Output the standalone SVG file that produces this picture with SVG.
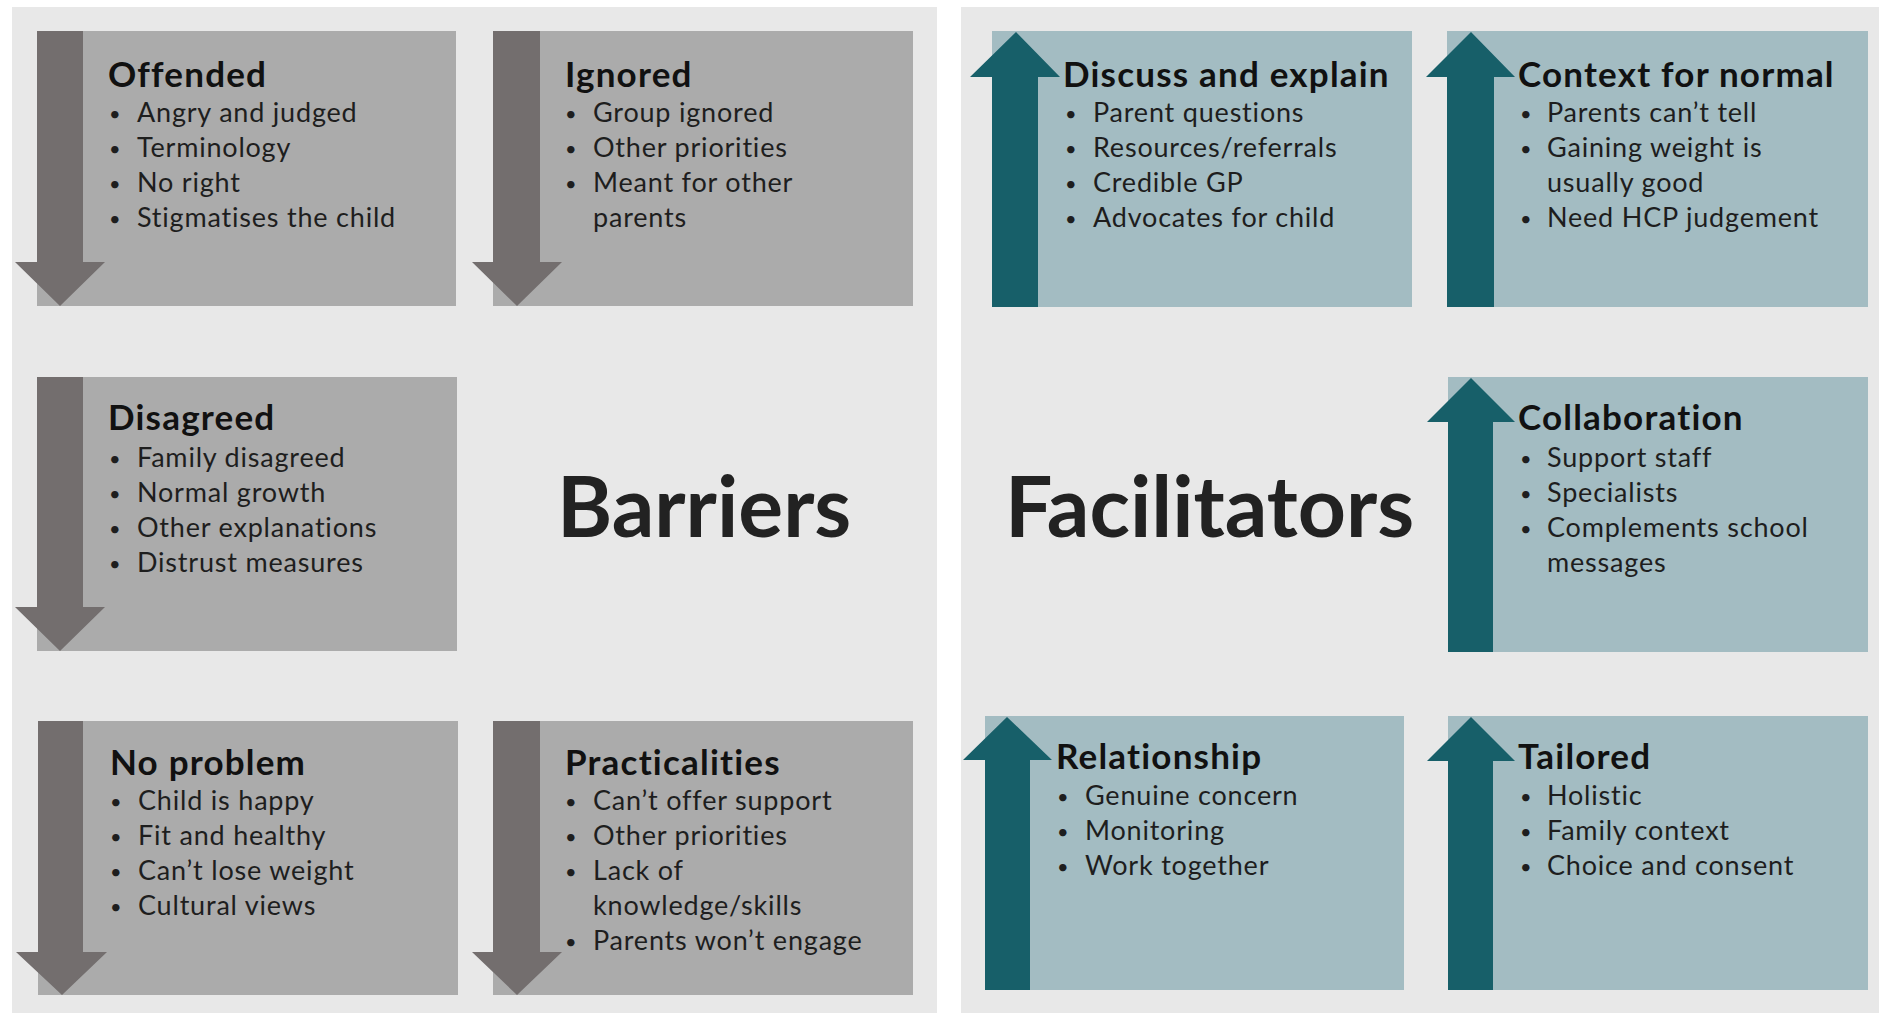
<svg xmlns="http://www.w3.org/2000/svg" width="1879" height="1013" viewBox="0 0 1879 1013">
<style>
.panel{fill:#e8e8e8}
.gbox{fill:#ababab}
.garr{fill:#736e6e}
.tbox{fill:#a3bcc2}
.tarr{fill:#175f69}
.title{font-family:Lato,"Open Sans",sans-serif;font-weight:700;font-size:35px;letter-spacing:1.2px;fill:#111}
.item{font-family:Lato,"Open Sans",sans-serif;font-size:27px;letter-spacing:0.8px;fill:#1e1e1e}
.b{font-size:20px}
.big{font-family:Lato,"Open Sans",sans-serif;font-weight:700;font-size:84px;fill:#222}
</style>
<rect width="1879" height="1013" fill="#ffffff"/>
<rect class="panel" x="12" y="7" width="925" height="1006"/>
<rect class="panel" x="961" y="7" width="918" height="1006"/>

<g id="offended">
<rect class="gbox" x="37" y="31" width="419" height="275"/>
<path class="garr" d="M37 31H83V262H105L60 306L15 262H37Z"/>
<text class="title" x="108" y="87">Offended</text>
<g class="item"><text class="b" x="109" y="121">•</text><text x="137" y="122">Angry and judged</text>
<text class="b" x="109" y="156">•</text><text x="137" y="157">Terminology</text>
<text class="b" x="109" y="191">•</text><text x="137" y="192">No right</text>
<text class="b" x="109" y="226">•</text><text x="137" y="227">Stigmatises the child</text></g>
</g>

<g id="ignored">
<rect class="gbox" x="493" y="31" width="420" height="275"/>
<path class="garr" d="M493 31H540V262H562L517 306L472 262H493Z"/>
<text class="title" x="565" y="87">Ignored</text>
<g class="item"><text class="b" x="565" y="121">•</text><text x="593" y="122">Group ignored</text>
<text class="b" x="565" y="156">•</text><text x="593" y="157">Other priorities</text>
<text class="b" x="565" y="191">•</text><text x="593" y="192">Meant for other</text>
<text x="593" y="227">parents</text></g>
</g>

<g id="disagreed">
<rect class="gbox" x="37" y="377" width="420" height="274"/>
<path class="garr" d="M37 377H83V607H105L60 651L15 607H37Z"/>
<text class="title" x="108" y="430">Disagreed</text>
<g class="item"><text class="b" x="109" y="466">•</text><text x="137" y="467">Family disagreed</text>
<text class="b" x="109" y="501">•</text><text x="137" y="502">Normal growth</text>
<text class="b" x="109" y="536">•</text><text x="137" y="537">Other explanations</text>
<text class="b" x="109" y="571">•</text><text x="137" y="572">Distrust measures</text></g>
</g>

<g id="noproblem">
<rect class="gbox" x="38" y="721" width="420" height="274"/>
<path class="garr" d="M38 721H83V952H107L62 995L16 952H38Z"/>
<text class="title" x="110" y="775">No problem</text>
<g class="item"><text class="b" x="110" y="809">•</text><text x="138" y="810">Child is happy</text>
<text class="b" x="110" y="844">•</text><text x="138" y="845">Fit and healthy</text>
<text class="b" x="110" y="879">•</text><text x="138" y="880">Can’t lose weight</text>
<text class="b" x="110" y="914">•</text><text x="138" y="915">Cultural views</text></g>
</g>

<g id="practicalities">
<rect class="gbox" x="493" y="721" width="420" height="274"/>
<path class="garr" d="M493 721H540V952H562L517 995L472 952H493Z"/>
<text class="title" x="565" y="775">Practicalities</text>
<g class="item"><text class="b" x="565" y="809">•</text><text x="593" y="810">Can’t offer support</text>
<text class="b" x="565" y="844">•</text><text x="593" y="845">Other priorities</text>
<text class="b" x="565" y="879">•</text><text x="593" y="880">Lack of</text>
<text x="593" y="915">knowledge/skills</text>
<text class="b" x="565" y="949">•</text><text x="593" y="950">Parents won’t engage</text></g>
</g>

<g id="barriers-label"><text class="big" x="557" y="537">Barriers</text></g>
<g id="facilitators-label"><text class="big" x="1005" y="537">Facilitators</text></g>

<g id="discuss">
<rect class="tbox" x="992" y="31" width="420" height="276"/>
<path class="tarr" d="M992 307V77H970L1016 32L1060 77H1038V307Z"/>
<text class="title" x="1063" y="87">Discuss and explain</text>
<g class="item"><text class="b" x="1065" y="121">•</text><text x="1093" y="122">Parent questions</text>
<text class="b" x="1065" y="156">•</text><text x="1093" y="157">Resources/referrals</text>
<text class="b" x="1065" y="191">•</text><text x="1093" y="192">Credible GP</text>
<text class="b" x="1065" y="226">•</text><text x="1093" y="227">Advocates for child</text></g>
</g>

<g id="context">
<rect class="tbox" x="1447" y="31" width="421" height="276"/>
<path class="tarr" d="M1447 307V77H1426L1471 32L1515 77H1494V307Z"/>
<text class="title" x="1518" y="87">Context for normal</text>
<g class="item"><text class="b" x="1520" y="121">•</text><text x="1547" y="122">Parents can’t tell</text>
<text class="b" x="1520" y="156">•</text><text x="1547" y="157">Gaining weight is</text>
<text x="1547" y="192">usually good</text>
<text class="b" x="1520" y="226">•</text><text x="1547" y="227">Need HCP judgement</text></g>
</g>

<g id="collaboration">
<rect class="tbox" x="1448" y="377" width="420" height="275"/>
<path class="tarr" d="M1448 652V422H1427L1471 378L1515 422H1493V652Z"/>
<text class="title" x="1518" y="430">Collaboration</text>
<g class="item"><text class="b" x="1520" y="466">•</text><text x="1547" y="467">Support staff</text>
<text class="b" x="1520" y="501">•</text><text x="1547" y="502">Specialists</text>
<text class="b" x="1520" y="536">•</text><text x="1547" y="537">Complements school</text>
<text x="1547" y="572">messages</text></g>
</g>

<g id="relationship">
<rect class="tbox" x="985" y="716" width="419" height="274"/>
<path class="tarr" d="M985 990V760H963L1007 717L1052 760H1030V990Z"/>
<text class="title" x="1056" y="769">Relationship</text>
<g class="item"><text class="b" x="1057" y="804">•</text><text x="1085" y="805">Genuine concern</text>
<text class="b" x="1057" y="839">•</text><text x="1085" y="840">Monitoring</text>
<text class="b" x="1057" y="874">•</text><text x="1085" y="875">Work together</text></g>
</g>

<g id="tailored">
<rect class="tbox" x="1448" y="716" width="420" height="274"/>
<path class="tarr" d="M1448 990V761H1427L1471 717L1515 761H1493V990Z"/>
<text class="title" x="1518" y="769">Tailored</text>
<g class="item"><text class="b" x="1520" y="804">•</text><text x="1547" y="805">Holistic</text>
<text class="b" x="1520" y="839">•</text><text x="1547" y="840">Family context</text>
<text class="b" x="1520" y="874">•</text><text x="1547" y="875">Choice and consent</text></g>
</g>

<g id="connectors"/>
</svg>
